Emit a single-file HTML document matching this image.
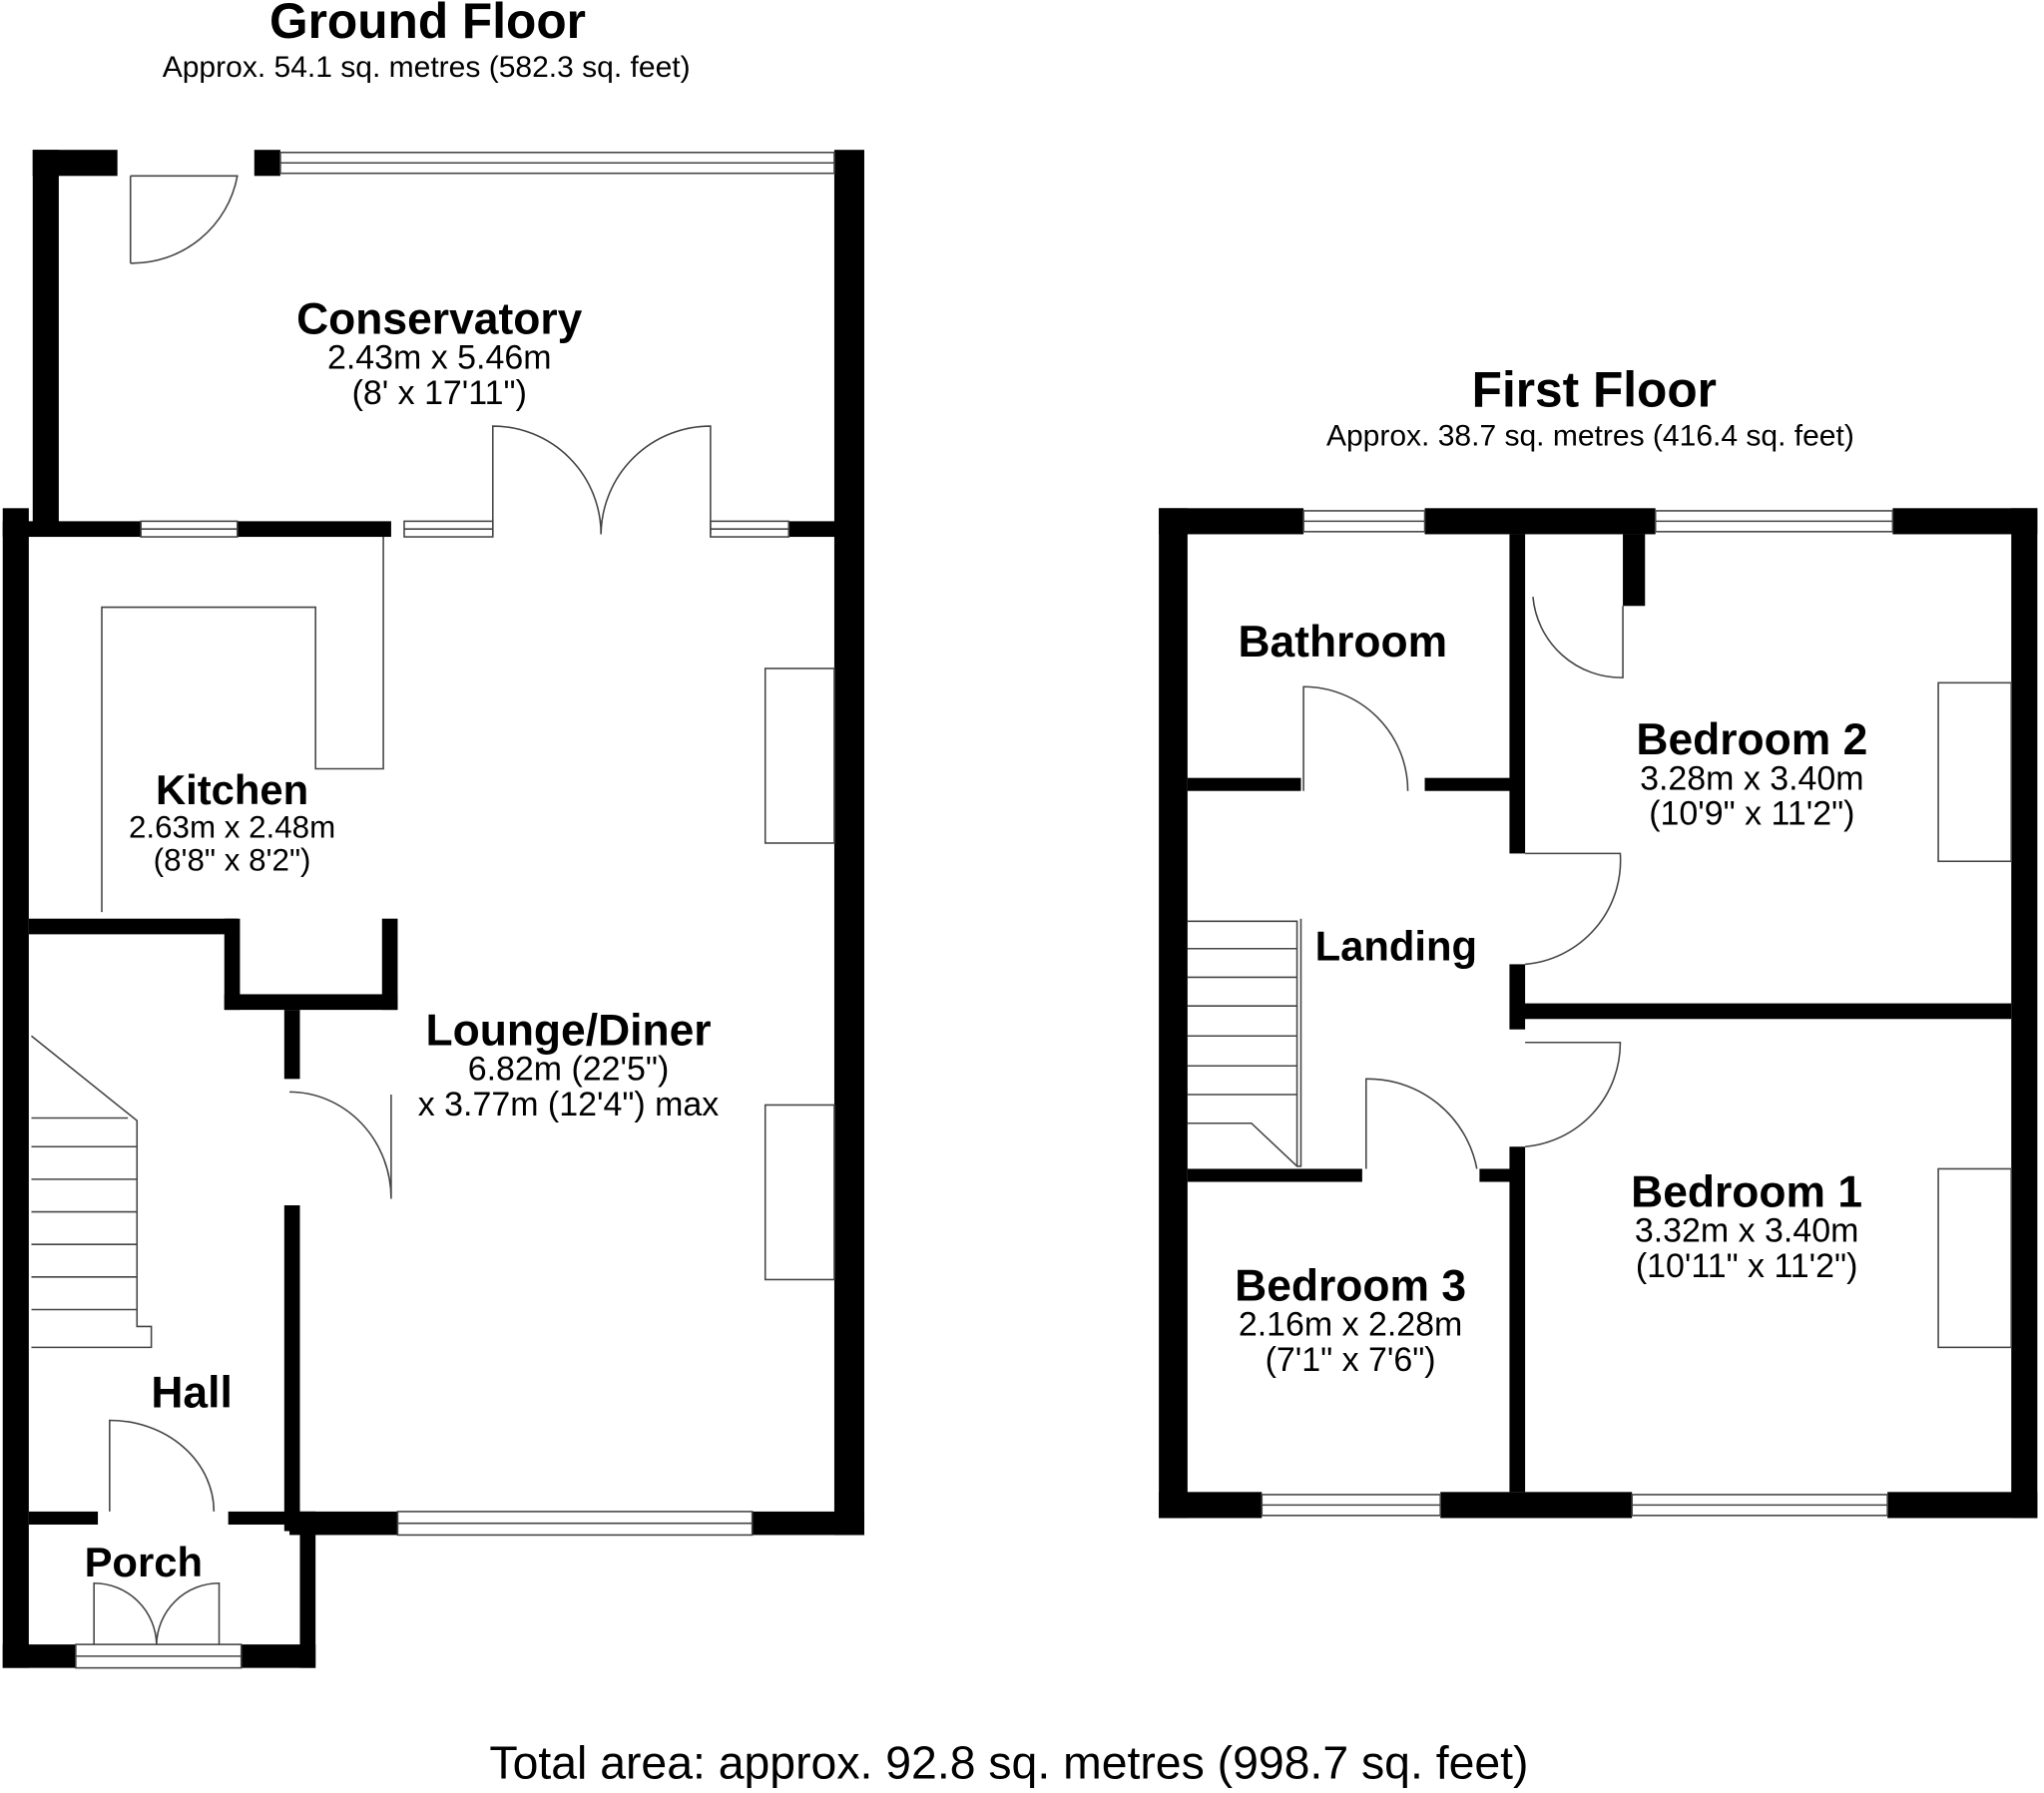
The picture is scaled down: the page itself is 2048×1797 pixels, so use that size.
<!DOCTYPE html>
<html><head><meta charset="utf-8"><style>
html,body{margin:0;padding:0;background:#fff;}
svg{display:block;}
text{font-family:"Liberation Sans",Arial,sans-serif;fill:#000;}
.b{font-weight:bold;}
</style></head><body>
<svg width="2048" height="1797" viewBox="0 0 1568 1376" xmlns="http://www.w3.org/2000/svg">
<g fill="#000">
<rect x="25" y="115" width="65" height="20"/>
<rect x="195" y="115" width="20" height="20"/>
<rect x="25" y="115" width="20" height="290"/>
<rect x="640" y="115" width="23" height="1063"/>
<rect x="2" y="390" width="20" height="890"/>
<rect x="2" y="400" width="106" height="12"/>
<rect x="182" y="400" width="118" height="12"/>
<rect x="605" y="400" width="40" height="12"/>
<rect x="577" y="1160" width="86" height="18"/>
<rect x="222" y="1160" width="83" height="18"/>
<rect x="218" y="775" width="12" height="53"/>
<rect x="218" y="925" width="12" height="250"/>
<rect x="22" y="705" width="160" height="12"/>
<rect x="172" y="705" width="12" height="70"/>
<rect x="172" y="763" width="133" height="12"/>
<rect x="293" y="705" width="12" height="70"/>
<rect x="22" y="1160" width="53" height="10"/>
<rect x="175" y="1160" width="67" height="10"/>
<rect x="230" y="1160" width="12" height="120"/>
<rect x="2" y="1262" width="56" height="18"/>
<rect x="185" y="1262" width="57" height="18"/>
<rect x="889" y="390" width="111" height="20"/>
<rect x="1093" y="390" width="177" height="20"/>
<rect x="1452" y="390" width="111" height="20"/>
<rect x="889" y="390" width="22" height="775"/>
<rect x="1543" y="390" width="20" height="775"/>
<rect x="889" y="1145" width="79" height="20"/>
<rect x="1105" y="1145" width="147" height="20"/>
<rect x="1448" y="1145" width="115" height="20"/>
<rect x="1158" y="410" width="12" height="245"/>
<rect x="1158" y="740" width="12" height="50"/>
<rect x="1158" y="880" width="12" height="265"/>
<rect x="1160" y="770" width="383" height="12"/>
<rect x="911" y="597" width="87" height="10"/>
<rect x="1093" y="597" width="67" height="10"/>
<rect x="911" y="897" width="134" height="10"/>
<rect x="1135" y="897" width="25" height="10"/>
<rect x="1245" y="410" width="17" height="55"/>
</g>
<g fill="none" stroke="#444" stroke-width="1.2">
<rect x="215" y="117" width="425" height="16"/><line x1="215" y1="125" x2="640" y2="125"/>
<rect x="108" y="400" width="74" height="12"/><line x1="108" y1="406" x2="182" y2="406"/>
<rect x="310" y="400" width="68" height="12"/><line x1="310" y1="406" x2="378" y2="406"/>
<rect x="545" y="400" width="60" height="12"/><line x1="545" y1="406" x2="605" y2="406"/>
<rect x="305" y="1160" width="272" height="18"/><line x1="305" y1="1169" x2="577" y2="1169"/>
<rect x="58" y="1262" width="127" height="18"/><line x1="58" y1="1271" x2="185" y2="1271"/>
<rect x="1000" y="392" width="93" height="16"/><line x1="1000" y1="400" x2="1093" y2="400"/>
<rect x="1270" y="392" width="182" height="16"/><line x1="1270" y1="400" x2="1452" y2="400"/>
<rect x="968" y="1147" width="137" height="16"/><line x1="968" y1="1155" x2="1105" y2="1155"/>
<rect x="1252" y="1147" width="196" height="16"/><line x1="1252" y1="1155" x2="1448" y2="1155"/>
<path d="M100 135 V202 M100 135 H182 A82 82 0 0 1 100 202"/>
<path d="M378 410 V327 A83 83 0 0 1 461 410 A84 84 0 0 1 545 327 V410"/>
<path d="M222 838 A78 82 0 0 1 300 920 V840"/>
<path d="M84 1160 V1090 A80 70 0 0 1 164 1160"/>
<path d="M72 1262 V1215 A48 48 0 0 1 120 1262 A48 48 0 0 1 168 1215 V1262"/>
<path d="M1000 607 V527 A80 80 0 0 1 1080 607"/>
<path d="M1170 655 H1243 A80 80 0 0 1 1170 740"/>
<path d="M1170 800 H1243 A80 80 0 0 1 1170 880"/>
<path d="M1048 897 V828 A85 85 0 0 1 1133 897"/>
<path d="M1176 458 A68 68 0 0 0 1245 520 V465"/>
<path d="M78 700 V466 H242 V590 H294 V412"/>
<rect x="587" y="513" width="53" height="134"/>
<rect x="587" y="848" width="53" height="134"/>
<rect x="1487" y="524" width="56" height="137"/>
<rect x="1487" y="897" width="56" height="137"/>
<path d="M24 795 L105 860 V1018 H116 V1034 H24"/>
<path d="M24 880 H105 M24 905 H105 M24 930 H105 M24 955 H105 M24 980 H105 M24 1005 H105 M24 858 H98"/>
<path d="M911 707 H995 V895 H998 V705 M911 728 H995 M911 750 H995 M911 772 H995 M911 795 H995 M911 818 H995 M911 840 H995 M911 862 H960 L995 895"/>
</g>
<g>
<text x="328" y="29" text-anchor="middle" font-size="38" class="b">Ground Floor</text>
<text x="327" y="59" text-anchor="middle" font-size="23">Approx. 54.1 sq. metres (582.3 sq. feet)</text>
<text x="1223" y="312" text-anchor="middle" font-size="38" class="b">First Floor</text>
<text x="1220" y="342" text-anchor="middle" font-size="23">Approx. 38.7 sq. metres (416.4 sq. feet)</text>
<text x="337" y="256" text-anchor="middle" font-size="34" class="b">Conservatory</text>
<text x="337" y="283" text-anchor="middle" font-size="26">2.43m x 5.46m</text>
<text x="337" y="310" text-anchor="middle" font-size="26">(8' x 17'11")</text>
<text x="178" y="617" text-anchor="middle" font-size="32" class="b">Kitchen</text>
<text x="178" y="643" text-anchor="middle" font-size="24">2.63m x 2.48m</text>
<text x="178" y="668" text-anchor="middle" font-size="24">(8'8" x 8'2")</text>
<text x="436" y="802" text-anchor="middle" font-size="34" class="b">Lounge/Diner</text>
<text x="436" y="829" text-anchor="middle" font-size="26">6.82m (22'5")</text>
<text x="436" y="856" text-anchor="middle" font-size="26">x 3.77m (12'4") max</text>
<text x="147" y="1080" text-anchor="middle" font-size="34" class="b">Hall</text>
<text x="110" y="1210" text-anchor="middle" font-size="32" class="b">Porch</text>
<text x="1030" y="504" text-anchor="middle" font-size="34" class="b">Bathroom</text>
<text x="1344" y="579" text-anchor="middle" font-size="34" class="b">Bedroom 2</text>
<text x="1344" y="606" text-anchor="middle" font-size="26">3.28m x 3.40m</text>
<text x="1344" y="633" text-anchor="middle" font-size="26">(10'9" x 11'2")</text>
<text x="1071" y="737" text-anchor="middle" font-size="32" class="b">Landing</text>
<text x="1340" y="926" text-anchor="middle" font-size="34" class="b">Bedroom 1</text>
<text x="1340" y="953" text-anchor="middle" font-size="26">3.32m x 3.40m</text>
<text x="1340" y="980" text-anchor="middle" font-size="26">(10'11" x 11'2")</text>
<text x="1036" y="998" text-anchor="middle" font-size="34" class="b">Bedroom 3</text>
<text x="1036" y="1025" text-anchor="middle" font-size="26">2.16m x 2.28m</text>
<text x="1036" y="1052" text-anchor="middle" font-size="26">(7'1" x 7'6")</text>
<text x="774" y="1365" text-anchor="middle" font-size="35.5">Total area: approx. 92.8 sq. metres (998.7 sq. feet)</text>
</g>
</svg>
</body></html>
